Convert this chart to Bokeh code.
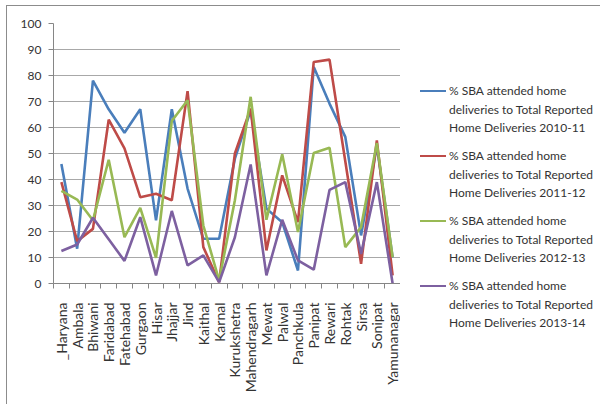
import math
from bokeh.plotting import figure
from bokeh.layouts import row
from bokeh.models import Range1d, FixedTicker, Div
from bokeh.embed import file_html
from bokeh.resources import INLINE

districts = ["_Haryana", "Ambala", "Bhiwani", "Faridabad", "Fatehabad", "Gurgaon",
             "Hisar", "Jhajjar", "Jind", "Kaithal", "Karnal", "Kurukshetra",
             "Mahendragarh", "Mewat", "Palwal", "Panchkula", "Panipat", "Rewari",
             "Rohtak", "Sirsa", "Sonipat", "Yamunanagar"]

sba_2010_11 = [46, 13.4, 78, 67, 58, 67, 24.3, 67, 36.5, 17.2, 17.2, 48,
               66.6, 28.8, 23.6, 5, 83.3, 69.2, 56.4, 18.5, 53, 10]
sba_2011_12 = [39, 16.3, 21, 63, 52, 33.2, 34.5, 32, 74, 14, 0.5, 50,
               67.3, 12.7, 41.6, 23.6, 85.2, 86.1, 47, 7.6, 55, 3.1]
sba_2012_13 = [35.6, 32.3, 24.3, 47.6, 17.8, 29.1, 9.9, 62.5, 70.5, 22.3, 1.2, 32,
               71.8, 24.5, 49.7, 19.8, 50.2, 52.2, 14, 21.7, 54, 10.1]
sba_2013_14 = [12.5, 15, 25.3, 17, 8.7, 25.5, 3.1, 27.9, 7, 10.8, 0.5, 17.8,
               45.8, 3.1, 24.5, 8.9, 5.3, 36, 39, 11.4, 39, 0]

series_names = [
    ["% SBA attended home", "deliveries to Total Reported", "Home Deliveries 2010-11"],
    ["% SBA attended home", "deliveries to Total Reported", "Home Deliveries 2011-12"],
    ["% SBA attended home", "deliveries to Total Reported", "Home Deliveries 2012-13"],
    ["% SBA attended home", "deliveries to Total Reported", "Home Deliveries 2013-14"],
]
series_colors = ["#4A7EBB", "#BE4B48", "#98B954", "#7D60A0"]
y_ticks = list(range(0, 101, 10))

n = len(districts)
centers = [i + 0.5 for i in range(n)]
bounds = list(range(n + 1))
font = "Lato"
H = 398

p = figure(width=393, height=H, output_backend="svg", toolbar_location=None,
           x_range=Range1d(0, n), y_range=Range1d(0, 100),
           min_border_left=46, min_border_right=0, min_border_top=17,
           min_border_bottom=121)
p.outline_line_color = None
p.background_fill_color = "white"
p.border_fill_color = "white"

# y axis
p.yaxis.ticker = FixedTicker(ticks=y_ticks)
p.yaxis.axis_line_color = "#868686"
p.yaxis.major_tick_line_color = "#868686"
p.yaxis.major_tick_out = 5
p.yaxis.major_tick_in = 0
p.yaxis.minor_tick_line_color = None
p.yaxis.major_label_text_font = font
p.yaxis.major_label_text_font_size = "12px"
p.yaxis.major_label_text_color = "#333333"
p.yaxis.major_label_standoff = 7

# x axis
p.xaxis.ticker = FixedTicker(ticks=centers, minor_ticks=bounds)
p.xaxis.major_label_overrides = {c: d for c, d in zip(centers, districts)}
p.xaxis.axis_line_color = "#868686"
p.xaxis.major_tick_line_color = None
p.xaxis.major_tick_out = 0
p.xaxis.major_tick_in = 0
p.xaxis.minor_tick_line_color = "#868686"
p.xaxis.minor_tick_out = 5
p.xaxis.minor_tick_in = 0
p.xaxis.major_label_orientation = math.pi / 2
p.xaxis.major_label_text_font = font
p.xaxis.major_label_text_font_size = "14px"
p.xaxis.major_label_text_color = "#333333"
p.xaxis.major_label_standoff = 14

p.xgrid.grid_line_color = None
p.ygrid.ticker = FixedTicker(ticks=y_ticks)
p.ygrid.grid_line_color = "#a8a8a8"
p.ygrid.grid_line_width = 1

for vals, col in zip([sba_2010_11, sba_2011_12, sba_2012_13, sba_2013_14], series_colors):
    p.line(centers, vals, line_color=col, line_width=2.6)

# legend as an HTML panel to the right of the plot
LW = 200
first_center, group_step, line_step = 85.7, 65, 18.5
parts = []
for g, (lines, col) in enumerate(zip(series_names, series_colors)):
    yc = first_center + g * group_step
    parts.append(
        f'<div style="position:absolute;left:20px;top:{yc - 1.25:.2f}px;width:26px;'
        f'height:0;border-top:2.5px solid {col};"></div>')
    parts.append(
        f'<div style="position:absolute;left:49px;top:{yc - line_step / 2:.2f}px;'
        f'line-height:{line_step}px;white-space:nowrap;">' + "<br>".join(lines) + '</div>')
html = (f'<div style="position:relative;width:{LW}px;height:{H}px;font-family:Lato;'
        f'font-size:12px;color:#333333;">' + "".join(parts) + '</div>')
legend_div = Div(text=html, width=LW, height=H, margin=0)

layout = row(p, legend_div)
layout.styles = {"margin-left": "6px", "margin-top": "5px",
                 "border-left": "1px solid #8c8c8c", "border-top": "1px solid #8c8c8c"}

open("out.html", "w").write(file_html(layout, INLINE))
